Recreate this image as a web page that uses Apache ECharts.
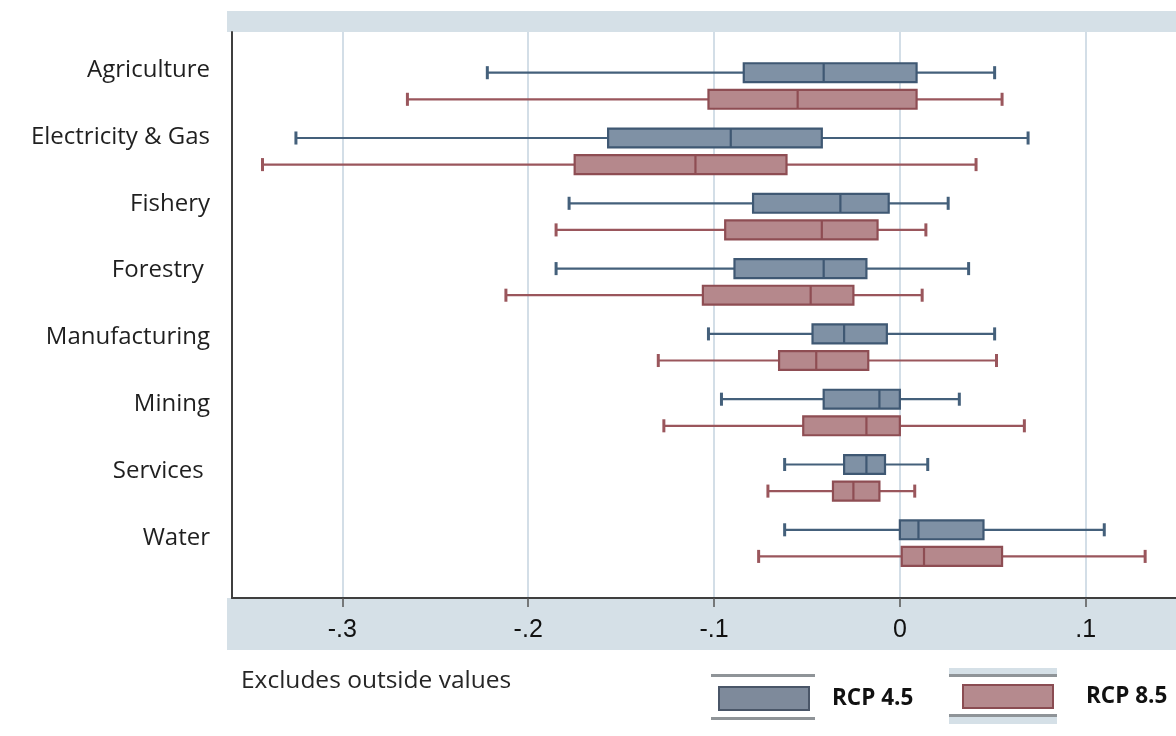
<!DOCTYPE html>
<html>
<head>
<meta charset="utf-8">
<script src="https://cdn.jsdelivr.net/npm/echarts@6/dist/echarts.min.js"></script>
<style>
  html, body { margin: 0; padding: 0; background: #ffffff; }
  #chart { width: 1176px; height: 736px; }
</style>
</head>
<body>
<div id="chart"></div>
<script>
// ---- data ----
const categories = ['Agriculture', 'Electricity & Gas', 'Fishery', 'Forestry ', 'Manufacturing', 'Mining', 'Services ', 'Water'];
// each row: [lower whisker, Q1, median, Q3, upper whisker]
const rcp45 = [
  [-0.222, -0.084, -0.041,  0.009, 0.051],
  [-0.325, -0.157, -0.091, -0.042, 0.069],
  [-0.178, -0.079, -0.032, -0.006, 0.026],
  [-0.185, -0.089, -0.041, -0.018, 0.037],
  [-0.103, -0.047, -0.030, -0.007, 0.051],
  [-0.096, -0.041, -0.011,  0.000, 0.032],
  [-0.062, -0.030, -0.018, -0.008, 0.015],
  [-0.062,  0.000,  0.010,  0.045, 0.110]
];
const rcp85 = [
  [-0.265, -0.103, -0.055,  0.009, 0.055],
  [-0.343, -0.175, -0.110, -0.061, 0.041],
  [-0.185, -0.094, -0.042, -0.012, 0.014],
  [-0.212, -0.106, -0.048, -0.025, 0.012],
  [-0.130, -0.065, -0.045, -0.017, 0.052],
  [-0.127, -0.052, -0.018,  0.000, 0.067],
  [-0.071, -0.036, -0.025, -0.011, 0.008],
  [-0.076,  0.001,  0.013,  0.055, 0.132]
];
const xTicks = [-0.3, -0.2, -0.1, 0, 0.1];
const seriesNames = ['RCP 4.5', 'RCP 8.5'];
const noteText = 'Excludes outside values';

// ---- styles ----
const X_MIN = -0.3594, X_MAX = 0.1486;
const BLUE = { fill: '#7f91a5', stroke: '#3f5873', whisker: '#44607b' };
const RED  = { fill: '#b5888c', stroke: '#8e4d53', whisker: '#9a565c' };
const BAND = '#d5e0e7';
const GRIDLINE = '#d3dee7';
const AXIS = '#3f3f3f';

function toRows(arr) { return arr.map((r, i) => [i].concat(r)); }

function boxRenderer(shift, c) {
  return function (params, api) {
    const i = api.value(0);
    const pMin = api.coord([api.value(1), i]);
    const pQ1  = api.coord([api.value(2), i]);
    const pMed = api.coord([api.value(3), i]);
    const pQ3  = api.coord([api.value(4), i]);
    const pMax = api.coord([api.value(5), i]);
    const band = api.size([0, 1])[1];
    const y = pMin[1] + shift * band;
    const h = 0.29 * band;
    const cap = 0.2 * band;
    const wStyle = { stroke: c.whisker, lineWidth: 2.2 };
    const capStyle = { stroke: c.whisker, lineWidth: 3 };
    return {
      type: 'group',
      children: [
        { type: 'line', shape: { x1: pMin[0], y1: y, x2: pQ1[0], y2: y }, style: wStyle },
        { type: 'line', shape: { x1: pQ3[0], y1: y, x2: pMax[0], y2: y }, style: wStyle },
        { type: 'line', shape: { x1: pMin[0], y1: y - cap / 2, x2: pMin[0], y2: y + cap / 2 }, style: capStyle },
        { type: 'line', shape: { x1: pMax[0], y1: y - cap / 2, x2: pMax[0], y2: y + cap / 2 }, style: capStyle },
        { type: 'rect', shape: { x: pQ1[0], y: y - h / 2, width: pQ3[0] - pQ1[0], height: h },
          style: { fill: c.fill, stroke: c.stroke, lineWidth: 2.2 } },
        { type: 'line', shape: { x1: pMed[0], y1: y - h / 2, x2: pMed[0], y2: y + h / 2 },
          style: { stroke: c.stroke, lineWidth: 2.2 } }
      ]
    };
  };
}

function tickFmt(v) {
  const r = Math.round(v * 10) / 10;
  if (Math.abs(v - r) > 1e-6) return '';
  if (r === 0) return '0';
  return (r < 0 ? '-' : '') + Math.abs(r).toFixed(1).replace(/^0/, '');
}

const chart = echarts.init(document.getElementById('chart'), null, { renderer: 'canvas' });

const option = {
  backgroundColor: '#ffffff',
  animation: false,
  title: {
    text: noteText,
    left: 241, top: 669, padding: 0,
    textStyle: { fontFamily: 'Open Sans', fontSize: 24.5, fontWeight: 'normal', color: '#262626' }
  },
  legend: [
    {
      data: [{ name: seriesNames[0], icon: 'rect',
        itemStyle: { color: '#7e8a9b', borderColor: '#4a5668', borderWidth: 2 } }],
      left: 718, top: 686, padding: 0, itemWidth: 90, itemHeight: 23, selectedMode: false,
      textStyle: { fontFamily: 'Open Sans', fontSize: 22.5, fontWeight: 'bold', color: '#111111', padding: [0, 0, 0, 18] }
    },
    {
      data: [{ name: seriesNames[1], icon: 'rect',
        itemStyle: { color: '#b58a8e', borderColor: '#8a4c52', borderWidth: 2 } }],
      left: 962, top: 684, padding: 0, itemWidth: 90, itemHeight: 23, selectedMode: false,
      textStyle: { fontFamily: 'Open Sans', fontSize: 22.5, fontWeight: 'bold', color: '#111111', padding: [0, 0, 0, 28] }
    }
  ],
  graphic: {
    elements: [
      { type: 'rect', z: -10, silent: true, shape: { x: 227, y: 11, width: 949, height: 21 }, style: { fill: BAND } },
      { type: 'rect', z: -10, silent: true, shape: { x: 227, y: 598, width: 949, height: 52 }, style: { fill: BAND } },
      // legend frame remnants
      { type: 'line', silent: true, shape: { x1: 711, y1: 675.5, x2: 815, y2: 675.5 }, style: { stroke: '#8f9498', lineWidth: 3 } },
      { type: 'line', silent: true, shape: { x1: 711, y1: 718.5, x2: 815, y2: 718.5 }, style: { stroke: '#8f9498', lineWidth: 3 } },
      { type: 'rect', silent: true, shape: { x: 949, y: 668, width: 108, height: 6 }, style: { fill: BAND } },
      { type: 'line', silent: true, shape: { x1: 949, y1: 675.5, x2: 1057, y2: 675.5 }, style: { stroke: '#8f9498', lineWidth: 3 } },
      { type: 'line', silent: true, shape: { x1: 949, y1: 715.5, x2: 1057, y2: 715.5 }, style: { stroke: '#8f9498', lineWidth: 3 } },
      { type: 'rect', silent: true, shape: { x: 949, y: 717, width: 108, height: 7 }, style: { fill: BAND } }
    ]
  },
  grid: [
    // 0: boxes
    { left: 232, right: 0, top: 53.35, height: 522.4, containLabel: false },
    // 1: frame, value axis, gridlines
    { left: 232, right: 0, top: 32, bottom: 138, containLabel: false },
    // 2: category labels
    { left: 232, right: 0, top: 36.5, height: 535.2, containLabel: false }
  ],
  xAxis: [
    { gridIndex: 0, type: 'value', min: X_MIN, max: X_MAX, show: false },
    {
      gridIndex: 1, type: 'value', min: X_MIN, max: X_MAX, position: 'bottom',
      axisLine: { show: true, onZero: false, lineStyle: { color: AXIS, width: 2 } },
      axisTick: { show: true, length: 9, inside: false, customValues: xTicks, lineStyle: { color: '#555555', width: 1.5 } },
      axisLabel: {
        show: true, customValues: xTicks, margin: 20,
        fontFamily: 'Liberation Sans', fontSize: 25, color: '#111111',
        formatter: tickFmt
      },
      splitLine: { show: true, lineStyle: { color: GRIDLINE, width: 2 } }
    },
    { gridIndex: 2, type: 'value', min: X_MIN, max: X_MAX, show: false }
  ],
  yAxis: [
    { gridIndex: 0, type: 'category', data: categories, inverse: true, show: false },
    {
      gridIndex: 1, type: 'value', min: 0, max: 1, position: 'left',
      axisLine: { show: true, onZero: false, lineStyle: { color: AXIS, width: 2 } },
      axisTick: { show: false }, axisLabel: { show: false }, splitLine: { show: false }
    },
    {
      gridIndex: 2, type: 'category', data: categories, inverse: true, position: 'left',
      axisLine: { show: false }, axisTick: { show: false }, splitLine: { show: false },
      axisLabel: { show: true, margin: 22, fontFamily: 'Open Sans', fontSize: 24, color: '#1f1f1f', interval: 0 }
    }
  ],
  series: [
    {
      name: seriesNames[0], type: 'custom', xAxisIndex: 0, yAxisIndex: 0, z: 3,
      itemStyle: { color: BLUE.fill, borderColor: BLUE.stroke },
      encode: { x: [1, 2, 3, 4, 5], y: 0 },
      data: toRows(rcp45),
      renderItem: boxRenderer(-0.2037, BLUE)
    },
    {
      name: seriesNames[1], type: 'custom', xAxisIndex: 0, yAxisIndex: 0, z: 3,
      itemStyle: { color: RED.fill, borderColor: RED.stroke },
      encode: { x: [1, 2, 3, 4, 5], y: 0 },
      data: toRows(rcp85),
      renderItem: boxRenderer(0.2037, RED)
    }
  ]
};

chart.setOption(option);
</script>
</body>
</html>
